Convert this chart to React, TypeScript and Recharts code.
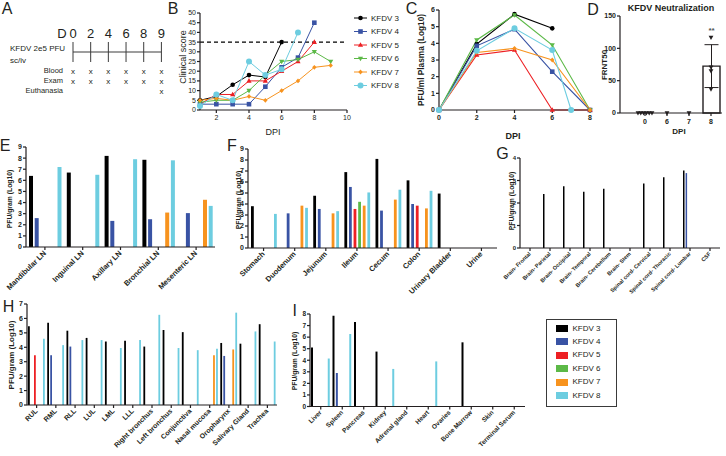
import React from "react";
import {
  LineChart,
  Line,
  BarChart,
  Bar,
  ComposedChart,
  Scatter,
  XAxis,
  YAxis,
  ReferenceLine,
  ErrorBar,
  LabelList,
} from "recharts";

type Num = number | null;

const FONT = '"Liberation Sans", Arial, Helvetica, sans-serif';
const INK = "#231f20";

const SERIES = ["KFDV 3", "KFDV 4", "KFDV 5", "KFDV 6", "KFDV 7", "KFDV 8"];
const COLORS = ["#000000", "#3953a4", "#ed2024", "#5cb947", "#f7931e", "#6dcde0"];
const MARKERS = ["circle", "square", "triangle", "triangleDown", "diamond", "bigCircle"];

// A - study schedule
const scheduleDays = ["0", "2", "4", "6", "8", "9"];
const bloodDays = ["0", "2", "4", "6", "8", "9"];
const examDays = ["0", "2", "4", "6", "8", "9"];
const euthanasiaDays = ["9"];

// B - clinical score
const scoreDpi = [1, 2, 3, 4, 5, 6, 7, 8, 9];
const score3: Num[] = [5, 7, 13, 18, 17, 35, null, null, null];
const score4: Num[] = [3, 3, 3, 3, 12, 22, 27, 45, null];
const score5: Num[] = [3, 8, 8, 15, 15, 20, 25, 35, null];
const score6: Num[] = [4, 5, 5, 10, 18, 25, 26, 30, 25];
const score7: Num[] = [5, 6, 5, 7, 5, 10, 15, 22, 23];
const score8: Num[] = [2, 8, 5, 25, 18, 21, 40, null, null];

// C - plasma viremia
const plasmaDpi = [0, 2, 4, 6, 7, 8];
const plasma3: Num[] = [0, 3.95, 5.75, 4.9, null, null];
const plasma4: Num[] = [0, 3.85, 4.85, 2.3, null, 0];
const plasma5: Num[] = [0, 3.3, 3.6, 0, null, 0];
const plasma6: Num[] = [0, 4.2, 5.7, 3.9, null, 0];
const plasma7: Num[] = [0, 3.45, 3.7, 3.0, null, 0];
const plasma8: Num[] = [0, 3.55, 4.9, 3.6, 0, null];

// D - neutralization
const frntDays = ["0", "6", "7", "8"];
const frntDay0 = [0, 0, 0, 0, 0, 0];
const frntDay6 = [0];
const frntDay7 = [0];
const frntDay8 = [117, 71, 65, 37];
const frntSignificance = ["", "", "", "**"];

// E - lymph nodes
const lnSites = ["Mandibular LN", "Inguinal LN", "Axillary LN", "Bronchial LN", "Mesenteric LN"];
const ln3: Num[] = [6.4, 6.7, 8.2, 7.85, null];
const ln4: Num[] = [2.6, null, 2.35, 2.5, 3.05];
const ln5: Num[] = [null, null, null, null, null];
const ln6: Num[] = [null, null, null, null, null];
const ln7: Num[] = [null, null, null, 3.1, 4.25];
const ln8: Num[] = [7.2, 6.5, 7.9, 7.8, 3.7];

// F - gastrointestinal / urinary
const giSites = ["Stomach", "Duodenum", "Jejunum", "Ileum", "Cecum", "Colon", "Urinary Bladder", "Urine"];
const gi3: Num[] = [3.8, null, 4.75, 6.9, 8.1, 6.15, 4.95, null];
const gi4: Num[] = [null, 3.15, 3.55, 5.55, 3.4, 4.0, null, null];
const gi5: Num[] = [null, null, null, 3.55, null, 3.85, null, null];
const gi6: Num[] = [null, null, null, 4.2, null, null, null, null];
const gi7: Num[] = [null, 3.85, 3.15, 3.85, 4.4, 3.6, null, null];
const gi8: Num[] = [3.1, 3.65, 3.35, 5.05, 5.3, 5.2, null, null];

// G - CNS
const cnsSites = [
  "Brain- Frontal",
  "Brain- Parietal",
  "Brain- Occipital",
  "Brain- Temporal",
  "Brain- Cerebellum",
  "Brain- Stem",
  "Spinal cord- Cervical",
  "Spinal cord- Thoracic",
  "Spinal cord- Lumbar",
  "CSF",
];
const cns3: Num[] = [null, 2.4, 2.75, 2.5, 2.63, null, 2.87, 3.15, 3.45, null];
const cns4: Num[] = [null, null, null, null, null, null, null, null, 3.33, null];
const cnsNone: Num[] = [null, null, null, null, null, null, null, null, null, null];

// H - respiratory / mucosal
const respSites = [
  "RUL", "RML", "RLL", "LUL", "LML", "LLL", "Right bronchus", "Left bronchus",
  "Conjunctiva", "Nasal mucosa", "Oropharynx", "Salivary Gland", "Trachea",
];
const resp3: Num[] = [5.45, 5.7, 5.15, 4.65, 4.4, 4.45, 4.05, 5.2, 5.05, null, 4.3, 4.25, 5.6];
const resp4: Num[] = [null, 3.45, 4.05, null, null, null, null, null, null, null, 3.4, null, null];
const resp5: Num[] = [3.45, null, null, null, null, null, null, null, null, null, null, null, null];
const resp6: Num[] = [null, null, null, null, null, null, null, null, null, null, null, null, null];
const resp7: Num[] = [null, null, null, null, null, null, null, null, null, 3.45, 3.85, null, null];
const resp8: Num[] = [4.6, 4.15, 4.5, 4.5, 3.95, 4.5, 6.25, 3.95, 3.8, 3.9, 6.4, 5.1, 4.4];

// I - other organs
const organSites = [
  "Liver", "Spleen", "Pancreas", "Kidney", "Adrenal gland", "Heart", "Ovaries",
  "Bone Marrow", "Skin", "Terminal Serum",
];
const organ3: Num[] = [5.1, 7.85, 7.3, 4.75, null, null, null, 5.55, null, null];
const organ4: Num[] = [null, 2.9, null, null, null, null, null, null, null, null];
const organNone: Num[] = [null, null, null, null, null, null, null, null, null, null];
const organ8: Num[] = [4.15, 6.27, null, 3.25, null, 3.9, null, null, null, null];

const AXIS = { stroke: INK, strokeWidth: 1.2 };
const tickFont = (size: number, bold = true) => ({
  fontSize: size,
  fill: INK,
  fontFamily: FONT,
  fontWeight: bold ? 700 : 400,
});

function rows(keyName: string, keys: (string | number)[], series: Num[][]) {
  return keys.map((k, i) => {
    const r: Record<string, any> = { [keyName]: k };
    SERIES.forEach((s, j) => {
      r[s] = series[j][i];
    });
    return r;
  });
}

function Marker({ cx, cy, kind, color }: { cx: any; cy: any; kind: string; color: string }) {
  if (cx == null || cy == null || Number.isNaN(cx) || Number.isNaN(cy)) return null;
  if (kind === "circle") return <circle cx={cx} cy={cy} r={2.3} fill={color} />;
  if (kind === "bigCircle") return <circle cx={cx} cy={cy} r={3} fill={color} />;
  if (kind === "square") return <rect x={cx - 2.3} y={cy - 2.3} width={4.6} height={4.6} fill={color} />;
  if (kind === "triangle")
    return <polygon points={`${cx},${cy - 2.8} ${cx + 2.6},${cy + 1.8} ${cx - 2.6},${cy + 1.8}`} fill={color} />;
  if (kind === "triangleDown")
    return <polygon points={`${cx},${cy + 2.8} ${cx + 2.6},${cy - 1.8} ${cx - 2.6},${cy - 1.8}`} fill={color} />;
  return <polygon points={`${cx},${cy - 2.4} ${cx + 2.2},${cy} ${cx},${cy + 2.4} ${cx - 2.2},${cy}`} fill={color} />;
}

function Txt({
  x, y, size, weight = 400, anchor = "middle", rotate = false, children,
}: {
  x: number; y: number; size: number; weight?: number; anchor?: string; rotate?: boolean; children: React.ReactNode;
}) {
  const tx = anchor === "start" ? "0" : anchor === "end" ? "-100%" : "-50%";
  return (
    <div
      style={{
        position: "absolute",
        left: x,
        top: y,
        transform: `translate(${tx},-50%)${rotate ? " rotate(-90deg)" : ""}`,
        fontSize: size,
        fontWeight: weight,
        lineHeight: 1,
        whiteSpace: "nowrap",
      }}
    >
      {children}
    </div>
  );
}

function SlantTick(props: any) {
  const { x, y, payload, fs } = props;
  return (
    <g transform={`translate(${x},${y + 1})`}>
      <text textAnchor="end" dy={fs * 0.3} transform="rotate(-45)" fontSize={fs} fontWeight={700} fill={INK} fontFamily={FONT}>
        {payload.value}
      </text>
    </g>
  );
}

const ROW = { blood: 1.93, exam: 2.93, euthanasia: 3.93 };

function ScheduleChart() {
  const data = scheduleDays.map((d) => ({
    day: d,
    blood: bloodDays.includes(d) ? ROW.blood : null,
    exam: examDays.includes(d) ? ROW.exam : null,
    euthanasia: euthanasiaDays.includes(d) ? ROW.euthanasia : null,
  }));
  const xMark = (key: string) => (p: any) =>
    p.cy == null || Number.isNaN(p.cy) ? (
      <g key={`${key}-${p.index}`} />
    ) : (
      <text key={`${key}-${p.index}`} x={p.cx} y={p.cy} textAnchor="middle" dominantBaseline="central" fontSize={8} fill={INK} fontFamily={FONT}>
        x
      </text>
    );
  return (
    <div style={{ position: "absolute", left: 72.8, top: 29.7 }}>
      <ComposedChart width={88.4} height={67} data={data} margin={{ top: 0, right: 0, bottom: 0, left: 0 }}>
        <XAxis dataKey="day" orientation="top" height={12} axisLine={false} tickLine={false} tickSize={0} tickMargin={4} interval={0} tick={tickFont(13, false)} />
        <YAxis hide reversed type="number" domain={[-1, 4.5]} />
        <ReferenceLine segment={[{ x: "0", y: 0 }, { x: "9", y: 0 }]} stroke="#3a3a3a" strokeWidth={1} />
        {scheduleDays.map((d) => (
          <ReferenceLine key={d} segment={[{ x: d, y: -1 }, { x: d, y: 1 }]} stroke="#3a3a3a" strokeWidth={1} />
        ))}
        {["blood", "exam", "euthanasia"].map((k) => (
          <Line key={k} dataKey={k} stroke="none" dot={xMark(k)} activeDot={false} isAnimationActive={false} />
        ))}
      </ComposedChart>
    </div>
  );
}

function ScoreChart() {
  const data = rows("dpi", scoreDpi, [score3, score4, score5, score6, score7, score8]);
  return (
    <div style={{ position: "absolute", left: 170, top: 7 }}>
      <LineChart width={181} height={123} data={data} margin={{ top: 6, right: 4, bottom: 0, left: 0 }}>
        <XAxis type="number" dataKey="dpi" domain={[1, 10]} ticks={[2, 4, 6, 8, 10]} height={20} tickSize={3} tickMargin={2} axisLine={AXIS} tickLine={AXIS} tick={tickFont(7, false)} />
        <YAxis domain={[0, 50]} ticks={[0, 5, 10, 15, 20, 25, 30, 35, 40, 45, 50]} interval={0} width={30} tickSize={3} tickMargin={1} axisLine={AXIS} tickLine={AXIS} tick={tickFont(7, false)} />
        <ReferenceLine y={35} stroke="#000" strokeDasharray="4 3" strokeWidth={1.3} />
        {SERIES.map((s, j) => (
          <Line
            key={s}
            dataKey={s}
            type="linear"
            stroke={COLORS[j]}
            strokeWidth={1}
            activeDot={false}
            isAnimationActive={false}
            dot={(p: any) => <Marker key={`${s}-${p.index}`} cx={p.cx} cy={p.cy} kind={MARKERS[j]} color={COLORS[j]} />}
          />
        ))}
      </LineChart>
    </div>
  );
}

function ScoreLegend() {
  return (
    <svg style={{ position: "absolute", left: 350, top: 10 }} width={60} height={84}>
      {SERIES.map((s, j) => {
        const y = 8 + 13.5 * j;
        return (
          <g key={s}>
            <line x1={4} x2={17} y1={y} y2={y} stroke={COLORS[j]} strokeWidth={1} />
            <Marker cx={10.5} cy={y} kind={MARKERS[j]} color={COLORS[j]} />
            <text x={21} y={y} dominantBaseline="central" fontSize={8} fill={INK} fontFamily={FONT}>
              {s}
            </text>
          </g>
        );
      })}
    </svg>
  );
}

function PlasmaChart() {
  const data = rows("dpi", plasmaDpi, [plasma3, plasma4, plasma5, plasma6, plasma7, plasma8]);
  return (
    <div style={{ position: "absolute", left: 414, top: 4 }}>
      <LineChart width={182} height={126} data={data} margin={{ top: 6, right: 6, bottom: 0, left: 0 }}>
        <XAxis type="number" dataKey="dpi" domain={[0, 8]} ticks={[0, 2, 4, 6, 8]} height={20} tickSize={3} tickMargin={2} axisLine={AXIS} tickLine={AXIS} tick={tickFont(7)} />
        <YAxis domain={[0, 6]} ticks={[0, 1, 2, 3, 4, 5, 6]} interval={0} width={25} tickSize={3} tickMargin={1} axisLine={AXIS} tickLine={AXIS} tick={tickFont(7)} />
        {SERIES.map((s, j) => (
          <Line
            key={s}
            dataKey={s}
            type="linear"
            connectNulls
            stroke={COLORS[j]}
            strokeWidth={1.1}
            activeDot={false}
            isAnimationActive={false}
            dot={(p: any) => <Marker key={`${s}-${p.index}`} cx={p.cx} cy={p.cy} kind={MARKERS[j]} color={COLORS[j]} />}
          />
        ))}
      </LineChart>
    </div>
  );
}

function FrntChart() {
  const groups = [frntDay0, frntDay6, frntDay7, frntDay8];
  const data = frntDays.map((d, i) => {
    const v = groups[i];
    const mean = v.reduce((a, b) => a + b, 0) / v.length;
    const sd = v.length > 1 ? Math.sqrt(v.reduce((a, b) => a + (b - mean) ** 2, 0) / (v.length - 1)) : null;
    return { dpi: d, mean, sd: sd && sd > 0 ? sd : null, sig: frntSignificance[i] };
  });
  const points = groups.flatMap((v, i) =>
    v.map((val, k) => ({
      dpi: frntDays[i],
      value: val,
      rank: v.slice(0, k).filter((o) => o === val).length,
      count: v.filter((o) => o === val).length,
    }))
  );
  return (
    <div style={{ position: "absolute", left: 595, top: 10 }}>
      <ComposedChart width={131} height={119} data={data} margin={{ top: 6, right: 4, bottom: 0, left: 0 }}>
        <XAxis dataKey="dpi" type="category" allowDuplicatedCategory={false} padding={{ left: 14, right: 0 }} height={16} tickSize={3} tickMargin={3} axisLine={AXIS} tickLine={AXIS} tick={tickFont(7)} />
        <YAxis type="number" domain={[0, 150]} ticks={[0, 50, 100, 150]} width={25} tickSize={3} tickMargin={1} axisLine={AXIS} tickLine={AXIS} tick={tickFont(7)} />
        <Bar dataKey="mean" fill="#ffffff" stroke={INK} strokeWidth={1.4} barSize={17} isAnimationActive={false}>
          <ErrorBar dataKey="sd" width={7} stroke={INK} strokeWidth={1} direction="y" />
          <LabelList dataKey="sig" position="top" offset={33} style={{ fontSize: 8, fontWeight: 700, fill: "#555", fontFamily: FONT }} />
        </Bar>
        <Scatter
          data={points}
          dataKey="value"
          isAnimationActive={false}
          shape={(p: any) => {
            const cx = p.cx + (p.payload.rank - (p.payload.count - 1) / 2) * 2.8;
            const cy = p.cy;
            return <polygon points={`${cx},${cy + 2.6} ${cx + 2.4},${cy - 1.7} ${cx - 2.4},${cy - 1.7}`} fill={INK} />;
          }}
        />
      </ComposedChart>
    </div>
  );
}

function OrganPanel({
  sites, series, plot, yMax, barSize, barGap, yFont, catFont,
}: {
  sites: string[]; series: Num[][]; plot: number[]; yMax: number; barSize: number; barGap: number; yFont: number; catFont: number;
}) {
  const data = rows("site", sites, series);
  const yw = 14;
  const mt = 6;
  const mr = 4;
  const xh = 60;
  const w = plot[2] - plot[0];
  const h = plot[3] - plot[1];
  const ticks = Array.from({ length: yMax + 1 }, (_, i) => i);
  return (
    <div style={{ position: "absolute", left: plot[0] - yw, top: plot[1] - mt }}>
      <BarChart width={yw + w + mr} height={mt + h + xh} data={data} margin={{ top: mt, right: mr, bottom: 0, left: 0 }} barSize={barSize} barGap={barGap}>
        <XAxis dataKey="site" interval={0} height={xh} tickSize={3} tickMargin={1} axisLine={AXIS} tickLine={AXIS} tick={(p: any) => <SlantTick {...p} fs={catFont} />} />
        <YAxis width={yw} domain={[0, yMax]} ticks={ticks} interval={0} tickSize={3} tickMargin={1} axisLine={AXIS} tickLine={AXIS} tick={tickFont(yFont)} />
        {SERIES.map((s, j) => (
          <Bar key={s} dataKey={s} fill={COLORS[j]} isAnimationActive={false} />
        ))}
      </BarChart>
    </div>
  );
}

function BottomLegend() {
  return (
    <div style={{ position: "absolute", left: 546, top: 319, width: 71, height: 88, border: "1.5px solid #3a3a3a", boxSizing: "border-box" }}>
      {SERIES.map((s, j) => (
        <div key={s} style={{ position: "absolute", left: 8.5, top: 8.5 + 13.4 * j, transform: "translateY(-50%)", display: "flex", alignItems: "center" }}>
          <span style={{ display: "inline-block", width: 12, height: 7, background: COLORS[j], marginRight: 5 }} />
          <span style={{ fontSize: 8, lineHeight: 1 }}>{s}</span>
        </div>
      ))}
    </div>
  );
}

export default function App() {
  const yTitle = "PFU/gram (Log10)";
  return (
    <div style={{ position: "absolute", left: 0, top: 0, width: 726, height: 456, background: "#fff", overflow: "hidden", fontFamily: FONT, color: INK }}>
      <style>{`.recharts-surface{overflow:visible}`}</style>

      <ScheduleChart />
      <Txt x={62} y={33} size={13}>D</Txt>
      <Txt x={10} y={49.3} size={8} anchor="start">KFDV 2e5 PFU</Txt>
      <Txt x={10} y={61} size={8} anchor="start">sc/iv</Txt>
      <Txt x={63} y={71} size={7.5} anchor="end">Blood</Txt>
      <Txt x={63} y={81} size={7.5} anchor="end">Exam</Txt>
      <Txt x={63} y={91} size={7.5} anchor="end">Euthanasia</Txt>

      <ScoreChart />
      <ScoreLegend />
      <Txt x={182.5} y={57} size={9} rotate>Clinical score</Txt>
      <Txt x={273} y={131.5} size={9}>DPI</Txt>

      <PlasmaChart />
      <Txt x={421} y={60} size={8.3} weight={700} rotate>PFU/ml Plasma (Log10)</Txt>
      <Txt x={513} y={136} size={9} weight={700}>DPI</Txt>

      <FrntChart />
      <Txt x={671} y={7.5} size={9} weight={700}>KFDV Neutralization</Txt>
      <Txt x={605} y={65} size={8} weight={700} rotate>FRNT50</Txt>
      <Txt x={679} y={132} size={8} weight={700}>DPI</Txt>

      <OrganPanel sites={lnSites} series={[ln3, ln4, ln5, ln6, ln7, ln8]} plot={[26, 147, 215, 247]} yMax={9} barSize={4} barGap={1.7} yFont={7} catFont={7.5} />
      <Txt x={9.5} y={199} size={6.8} weight={700} rotate>{yTitle}</Txt>

      <OrganPanel sites={giSites} series={[gi3, gi4, gi5, gi6, gi7, gi8]} plot={[248, 149, 497, 248]} yMax={9} barSize={2.8} barGap={1.8} yFont={7} catFont={7.5} />
      <Txt x={239} y={200} size={6.8} weight={700} rotate>{yTitle}</Txt>

      <OrganPanel sites={cnsSites} series={[cns3, cns4, cnsNone, cnsNone, cnsNone, cnsNone]} plot={[520, 158, 720, 248]} yMax={4} barSize={1.5} barGap={1.1} yFont={6} catFont={5.5} />
      <Txt x={512} y={201} size={6.8} weight={700} rotate>{yTitle}</Txt>

      <OrganPanel sites={respSites} series={[resp3, resp4, resp5, resp6, resp7, resp8]} plot={[27, 304, 277, 405]} yMax={7} barSize={1.8} barGap={1.2} yFont={7} catFont={7} />
      <Txt x={12} y={355} size={8} weight={700} rotate>{yTitle}</Txt>

      <OrganPanel sites={organSites} series={[organ3, organ4, organNone, organNone, organNone, organ8]} plot={[310, 314, 525, 406.5]} yMax={8} barSize={2} barGap={1.35} yFont={6.5} catFont={6.5} />
      <Txt x={295} y={361} size={6.8} weight={700} rotate>{yTitle}</Txt>

      <BottomLegend />

      <Txt x={7} y={9} size={16}>A</Txt>
      <Txt x={173} y={9} size={16}>B</Txt>
      <Txt x={411.5} y={8.5} size={16}>C</Txt>
      <Txt x={593} y={10} size={16}>D</Txt>
      <Txt x={5} y={146} size={16}>E</Txt>
      <Txt x={232} y={145.5} size={16}>F</Txt>
      <Txt x={502.5} y={154} size={16}>G</Txt>
      <Txt x={8.5} y={306.5} size={16}>H</Txt>
      <Txt x={294.7} y={311} size={16}>I</Txt>
    </div>
  );
}
